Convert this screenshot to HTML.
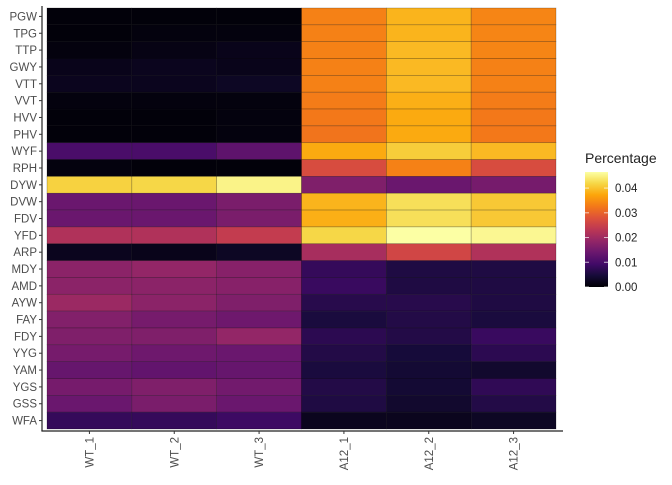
<!DOCTYPE html>
<html><head><meta charset="utf-8"><style>
body{margin:0;background:#fff;font-family:"Liberation Sans",sans-serif}
text{font-family:"Liberation Sans",sans-serif}
</style></head><body>
<svg id="chart" width="672" height="480" viewBox="0 0 672 480" xmlns="http://www.w3.org/2000/svg">
<defs><linearGradient id="lg" x1="0" y1="1" x2="0" y2="0"></linearGradient></defs>
<g id="tiles"></g>
<g id="axes"></g>
<g id="legend"></g>
</svg>
<script>
const rows = ["PGW","TPG","TTP","GWY","VTT","VVT","HVV","PHV","WYF","RPH","DYW","DVW","FDV","YFD","ARP","MDY","AMD","AYW","FAY","FDY","YYG","YAM","YGS","GSS","WFA"];
const samples = ["WT_1","WT_2","WT_3","A12_1","A12_2","A12_3"];
const WT_1 = [0.0005,0.0005,0.0009,0.0019,0.0023,0.0009,0.0005,0.0005,0.0102,0.0009,0.0414,0.0140,0.0140,0.0219,0.0023,0.0177,0.0177,0.0195,0.0167,0.0163,0.0153,0.0135,0.0153,0.0140,0.0079];
const WT_2 = [0.0005,0.0009,0.0014,0.0023,0.0023,0.0009,0.0005,0.0005,0.0102,0.0005,0.0419,0.0140,0.0140,0.0219,0.0019,0.0186,0.0177,0.0177,0.0153,0.0163,0.0144,0.0130,0.0163,0.0158,0.0079];
const WT_3 = [0.0005,0.0009,0.0019,0.0019,0.0028,0.0009,0.0009,0.0009,0.0126,0.0005,0.0451,0.0158,0.0158,0.0242,0.0028,0.0172,0.0172,0.0163,0.0144,0.0186,0.0140,0.0135,0.0149,0.0140,0.0088];
const A12_1 = [0.0335,0.0335,0.0335,0.0335,0.0335,0.0330,0.0326,0.0321,0.0377,0.0270,0.0163,0.0386,0.0381,0.0419,0.0209,0.0079,0.0084,0.0065,0.0051,0.0070,0.0060,0.0051,0.0060,0.0056,0.0023];
const A12_2 = [0.0386,0.0386,0.0391,0.0391,0.0391,0.0381,0.0377,0.0377,0.0409,0.0335,0.0140,0.0428,0.0428,0.0465,0.0260,0.0056,0.0056,0.0065,0.0060,0.0060,0.0047,0.0042,0.0042,0.0037,0.0023];
const A12_3 = [0.0339,0.0339,0.0339,0.0335,0.0335,0.0330,0.0326,0.0326,0.0391,0.0270,0.0153,0.0405,0.0405,0.0456,0.0219,0.0056,0.0056,0.0056,0.0051,0.0084,0.0070,0.0037,0.0074,0.0060,0.0028];
const series = [WT_1,WT_2,WT_3,A12_1,A12_2,A12_3];
const legendTicks = [0,0.01,0.02,0.03,0.04];
const legendLabels = ["0.00","0.01","0.02","0.03","0.04"];

const VMAX = 0.0465;
const stops = ["#000004","#160b39","#420a68","#6a176e","#932667","#bc3754","#dd513a","#f37819","#fca50a","#f6d746","#fcffa4"];
function hex(h){return [1,3,5].map(i=>parseInt(h.substr(i,2),16));}
function color(v){
  let t=Math.max(0,Math.min(1,v/VMAX))*10;let i=Math.min(9,Math.floor(t));let f=t-i;
  const a=hex(stops[i]),b=hex(stops[i+1]);
  return "rgb("+a.map((c,k)=>Math.round(c+(b[k]-c)*f)).join(",")+")";
}
const NS="http://www.w3.org/2000/svg";
function mk(tag,attrs,parent){const e=document.createElementNS(NS,tag);for(const k in attrs)e.setAttribute(k,attrs[k]);parent.appendChild(e);return e;}
const X0=47,X1=556,Y0=8,Y1=429;
const cw=(X1-X0)/samples.length, rh=(Y1-Y0)/rows.length;
const xPos=i=>X0+i*cw, yPos=j=>Y0+j*rh;
const tiles=document.getElementById('tiles');
series.forEach((col,i)=>col.forEach((v,j)=>{
  const r=mk('rect',{x:xPos(i),y:yPos(j),width:cw,height:rh,fill:color(v),stroke:"rgba(0,0,0,0.35)","stroke-width":0.6},tiles);
  
  
}));
const axes=document.getElementById('axes');
const yl=mk('line',{x1:42,y1:Y0-2,x2:42,y2:431,stroke:"#222","stroke-width":1.2},axes);


const xl=mk('line',{x1:41.4,y1:431,x2:563,y2:431,stroke:"#222","stroke-width":1.2},axes);


rows.forEach((r,j)=>{
  const y=yPos(j)+rh/2;
  mk('line',{x1:39,y1:y,x2:42,y2:y,stroke:"#333"},axes);
  const t=mk('text',{x:37,y:y+4,"text-anchor":"end","font-size":11.5,fill:"#4d4d4d"},axes);
  t.textContent=r;
  
  
});
samples.forEach((s,i)=>{
  const x=xPos(i)+cw/2;
  mk('line',{x1:x,y1:431,x2:x,y2:434,stroke:"#333"},axes);
  const t=mk('text',{x:0,y:0,"text-anchor":"end","font-size":11.5,fill:"#4d4d4d",transform:`translate(${x+4},437) rotate(-90)`},axes);
  t.textContent=s;
  
  
});
const lg=document.getElementById('lg');
stops.forEach((c,i)=>mk('stop',{offset:(i/10),"stop-color":c},lg));
const legend=document.getElementById('legend');
const title=mk('text',{x:585,y:163,"font-size":14,fill:"#222"},legend);
title.textContent="Percentage";


const LB=287,LT=172;
const bar=mk('rect',{x:585,y:LT,width:23,height:LB-LT,fill:"url(#lg)"},legend);


legendTicks.forEach((v,i)=>{
  const y=LB-(v/VMAX)*(LB-LT);
  mk('line',{x1:585,y1:y,x2:589,y2:y,stroke:"rgba(255,255,255,0.7)"},legend);
  mk('line',{x1:604,y1:y,x2:608,y2:y,stroke:"rgba(255,255,255,0.7)"},legend);
  const t=mk('text',{x:615,y:y+4,"font-size":11.5,fill:"#222"},legend);
  t.textContent=legendLabels[i];
  
  
});
</script>
</body></html>
